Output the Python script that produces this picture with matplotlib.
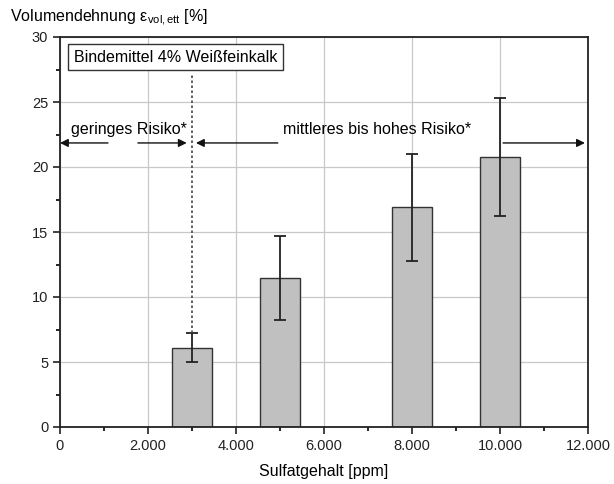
import numpy as np
import matplotlib
matplotlib.use('Agg')
import matplotlib.pyplot as plt
import matplotlib.ticker as mticker

plt.rcParams['font.family'] = ['Liberation Sans', 'DejaVu Sans']
plt.rcParams['mathtext.fontset'] = 'custom'
plt.rcParams['mathtext.rm'] = 'Liberation Sans'
plt.rcParams['mathtext.it'] = 'Liberation Sans:italic'

# Werte
sulfat = [3000, 5000, 8000, 10000]
dehnung = [6.1, 11.5, 16.9, 20.8]
err_unten = [5.0, 8.25, 12.8, 16.25]
err_oben = [7.2, 14.7, 21.0, 25.3]

x_ticks = [0, 2000, 4000, 6000, 8000, 10000, 12000]
x_labels = ['0', '2.000', '4.000', '6.000', '8.000', '10.000', '12.000']
y_ticks = [0, 5, 10, 15, 20, 25, 30]

dehnung = np.array(dehnung)
yerr = [dehnung - np.array(err_unten), np.array(err_oben) - dehnung]

fig = plt.figure(figsize=(6.14, 4.84), dpi=100)
ax = fig.add_axes([60 / 614, 57 / 484, 528 / 614, 390 / 484])

ax.grid(True, color='#c8c8c8', linewidth=0.9, zorder=0)
ax.bar(sulfat, dehnung, width=930, color='#c0c0c0', edgecolor='#333333',
       linewidth=1.0, zorder=2)
ax.errorbar(sulfat, dehnung, yerr=yerr, fmt='none', ecolor='#222222',
            elinewidth=1.3, capsize=4.5, capthick=1.3, zorder=3)

ax.set_xlim(0, 12000)
ax.set_ylim(0, 30)
ax.set_xticks(x_ticks)
ax.set_xticklabels(x_labels)
ax.set_yticks(y_ticks)
ax.xaxis.set_minor_locator(mticker.MultipleLocator(1000))
ax.yaxis.set_minor_locator(mticker.MultipleLocator(2.5))
ax.tick_params(which='major', direction='out', length=5, width=1.2,
               labelsize=10.5, colors='#222222')
ax.tick_params(which='minor', direction='out', length=3, width=1.2)
for sp in ax.spines.values():
    sp.set_linewidth(1.3)
    sp.set_color('#222222')

ax.set_xlabel('Sulfatgehalt [ppm]', fontsize=11.5, labelpad=8)
fig.text(10 / 614, 1 - 18 / 484,
         r'Volumendehnung ε$_{\mathregular{vol,ett}}$ [%]',
         fontsize=11.5, va='center', ha='left')

# Grenze 3.000 ppm
ax.plot([3000, 3000], [7.2, 27.1], color='#444444', linestyle=(0, (1.5, 1.5)),
        linewidth=1.2, zorder=3)

ax.text(320, 28.45, 'Bindemittel 4% Weißfeinkalk', fontsize=11.5,
        va='center', ha='left', zorder=4,
        bbox=dict(boxstyle='square,pad=0.35', facecolor='white',
                  edgecolor='#333333', linewidth=1.0))

arr = dict(arrowstyle='-|>', color='#111111', lw=1.0,
           mutation_scale=12, shrinkA=0, shrinkB=0)
y_arr = 21.85
ax.annotate('', xy=(0, y_arr), xytext=(1090, y_arr), arrowprops=arr, zorder=4)
ax.annotate('', xy=(2880, y_arr), xytext=(1770, y_arr), arrowprops=arr, zorder=4)
ax.annotate('', xy=(3090, y_arr), xytext=(4950, y_arr), arrowprops=arr, zorder=4)
ax.annotate('', xy=(11930, y_arr), xytext=(10070, y_arr), arrowprops=arr, zorder=4)

ax.text(240, 22.85, 'geringes Risiko*', fontsize=11.5, va='center', ha='left', zorder=4)
ax.text(5070, 22.85, 'mittleres bis hohes Risiko*', fontsize=11.5,
        va='center', ha='left', zorder=4)

fig.savefig('out.png', dpi=100)
